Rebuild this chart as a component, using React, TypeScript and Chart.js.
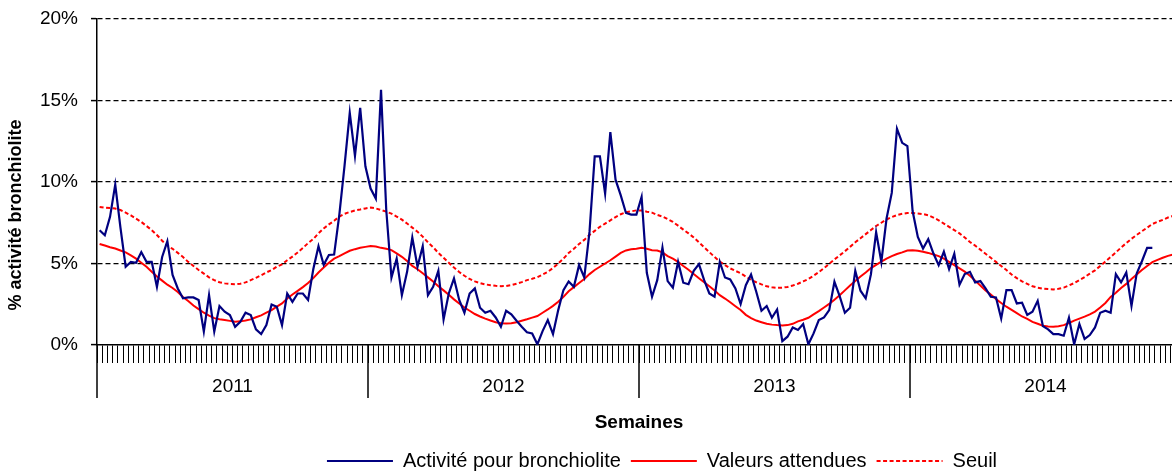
import React, { useEffect, useRef } from 'react';
import { Chart, registerables } from 'chart.js';

Chart.register(...registerables);

// ---------- data ----------
const YEARS = ['2011', '2012', '2013', '2014'];
const WEEKS_PER_YEAR = 52;
const WEEK_LABELS: string[] = YEARS.flatMap((y) =>
  Array.from({ length: WEEKS_PER_YEAR }, (_, k) => `${y}-S${String(k + 1).padStart(2, '0')}`)
);

const Y_TICKS = [0, 5, 10, 15, 20];
const Y_TICK_LABELS = ['0%', '5%', '10%', '15%', '20%'];

const SERIES_NAMES = ['Activité pour bronchiolite', 'Valeurs attendues', 'Seuil'];
const X_TITLE = 'Semaines';
const Y_TITLE = '% activité bronchiolite';

// % activity, weekly (2011-S01 ... 2014-S47)
const activite = [
  7.04, 6.73, 7.86, 9.84, 7.2, 4.8, 5.1, 5.04, 5.7, 5.1,
  5.1, 3.57, 5.4, 6.37, 4.3, 3.47, 2.86, 2.92, 2.92, 2.76,
  0.82, 3.06, 0.82, 2.39, 2.04, 1.84, 1.12, 1.43, 1.98, 1.84,
  0.96, 0.67, 1.22, 2.49, 2.35, 1.22, 3.16, 2.65, 3.16, 3.16,
  2.76, 4.65, 6.06, 4.92, 5.52, 5.55, 8.0, 11.0, 14.24, 11.6,
  14.55, 10.96, 9.6, 8.98, 15.65, 8.3, 4.14, 5.3, 3.06, 4.49,
  6.59, 4.8, 6.06, 3.06, 3.57, 4.55, 1.57, 3.16, 4.08, 2.76,
  1.98, 3.16, 3.47, 2.29, 1.98, 2.1, 1.69, 1.12, 2.1, 1.88,
  1.49, 1.12, 0.78, 0.71, 0.04, 0.85, 1.53, 0.67, 2.14, 3.37,
  3.9, 3.57, 4.9, 4.14, 6.94, 11.57, 11.57, 9.29, 13.06, 10.14,
  9.18, 8.1, 8.0, 8.0, 9.08, 4.43, 2.96, 3.98, 5.98, 3.92,
  3.51, 5.1, 3.82, 3.73, 4.55, 4.96, 3.98, 3.16, 2.96, 5.1,
  4.14, 4.02, 3.47, 2.51, 3.67, 4.33, 3.27, 2.1, 2.39, 1.67,
  2.18, 0.24, 0.51, 1.08, 0.92, 1.29, 0.04, 0.71, 1.53, 1.69,
  2.14, 3.88, 3.0, 1.98, 2.29, 4.55, 3.33, 2.86, 4.33, 6.92,
  5.1, 7.76, 9.33, 13.27, 12.4, 12.2, 8.22, 6.63, 5.92, 6.49,
  5.61, 4.9, 5.73, 4.65, 5.6, 3.7, 4.35, 4.49, 3.84, 3.92,
  3.47, 2.96, 2.92, 1.63, 3.37, 3.37, 2.55, 2.59, 1.84, 2.04,
  2.71, 1.16, 0.96, 0.67, 0.67, 0.57, 1.67, 0.04, 1.29, 0.37,
  0.61, 1.08, 1.98, 2.1, 1.98, 4.35, 3.84, 4.45, 2.39, 4.39,
  5.14, 5.96, 5.96,
];

// expected values, weekly
const attendues = [
  6.2, 6.1, 6.0, 5.92, 5.8, 5.68, 5.5, 5.3, 5.05, 4.8,
  4.5, 4.2, 3.95, 3.7, 3.5, 3.25, 2.95, 2.7, 2.42, 2.2,
  1.98, 1.8, 1.65, 1.58, 1.53, 1.48, 1.43, 1.45, 1.5, 1.57,
  1.7, 1.82, 1.98, 2.14, 2.35, 2.55, 2.85, 3.1, 3.32, 3.55,
  3.8, 4.1, 4.45, 4.75, 5.05, 5.3, 5.45, 5.62, 5.78, 5.88,
  5.96, 6.02, 6.08, 6.04, 5.96, 5.9, 5.82, 5.62, 5.41, 5.15,
  4.85, 4.65, 4.4, 4.15, 3.9, 3.6, 3.35, 3.08, 2.8, 2.55,
  2.3, 2.1, 1.9, 1.75, 1.62, 1.5, 1.4, 1.33, 1.32, 1.33,
  1.4, 1.49, 1.58, 1.68, 1.78, 1.98, 2.18, 2.4, 2.65, 2.95,
  3.3, 3.55, 3.8, 4.05, 4.35, 4.6, 4.8, 5.0, 5.2, 5.42,
  5.65, 5.8, 5.87, 5.9, 5.96, 5.9, 5.82, 5.8, 5.68, 5.45,
  5.3, 5.1, 4.85, 4.62, 4.35, 4.1, 3.85, 3.6, 3.35, 3.06,
  2.85, 2.62, 2.38, 2.15, 1.85, 1.65, 1.5, 1.4, 1.3, 1.25,
  1.22, 1.2, 1.22, 1.3, 1.45, 1.55, 1.67, 1.88, 2.08, 2.3,
  2.52, 2.78, 3.05, 3.35, 3.65, 3.92, 4.2, 4.45, 4.72, 4.92,
  5.12, 5.3, 5.45, 5.58, 5.68, 5.8, 5.82, 5.78, 5.72, 5.65,
  5.55, 5.45, 5.3, 5.1, 4.9, 4.7, 4.5, 4.25, 3.95, 3.65,
  3.35, 3.1, 2.82, 2.58, 2.35, 2.15, 1.95, 1.75, 1.6, 1.42,
  1.3, 1.18, 1.14, 1.12, 1.15, 1.22, 1.35, 1.5, 1.62, 1.74,
  1.88, 2.05, 2.3, 2.58, 2.95, 3.2, 3.5, 3.75, 4.05, 4.32,
  4.6, 4.85, 5.08, 5.22, 5.35, 5.47, 5.55, 5.62,
];

// alert threshold, weekly
const seuil = [
  8.47, 8.43, 8.4, 8.37, 8.28, 8.12, 7.95, 7.75, 7.55, 7.3,
  7.05, 6.75, 6.4, 6.1, 5.9, 5.65, 5.4, 5.1, 4.85, 4.6,
  4.38, 4.15, 3.98, 3.85, 3.78, 3.74, 3.73, 3.76, 3.84, 3.98,
  4.12, 4.28, 4.45, 4.6, 4.8, 4.95, 5.2, 5.42, 5.68, 5.95,
  6.25, 6.5, 6.85, 7.15, 7.4, 7.62, 7.88, 8.05, 8.16, 8.25,
  8.31, 8.38, 8.43, 8.38, 8.28, 8.18, 8.06, 7.88, 7.69, 7.45,
  7.2, 6.95, 6.65, 6.3, 6.0, 5.65, 5.35, 5.05, 4.75, 4.48,
  4.25, 4.05, 3.9, 3.8, 3.72, 3.67, 3.63, 3.61, 3.62, 3.67,
  3.76, 3.86, 3.98, 4.06, 4.16, 4.32, 4.49, 4.72, 5.0, 5.3,
  5.65, 5.9, 6.2, 6.45, 6.75, 7.0, 7.25, 7.45, 7.65, 7.85,
  8.02, 8.14, 8.2, 8.26, 8.25, 8.18, 8.12, 7.98, 7.88, 7.72,
  7.55, 7.32, 7.08, 6.85, 6.6, 6.3, 6.0, 5.7, 5.4, 5.12,
  4.9, 4.7, 4.55, 4.4, 4.2, 4.0, 3.85, 3.72, 3.6, 3.54,
  3.51, 3.52, 3.56, 3.65, 3.76, 3.9, 4.05, 4.25, 4.47, 4.72,
  4.98, 5.25, 5.5, 5.75, 6.02, 6.3, 6.55, 6.8, 7.05, 7.3,
  7.5, 7.7, 7.85, 7.97, 8.05, 8.1, 8.1, 8.07, 8.03, 7.96,
  7.82, 7.65, 7.45, 7.25, 7.05, 6.85, 6.6, 6.32, 6.1, 5.85,
  5.6, 5.35, 5.1, 4.85, 4.6, 4.32, 4.1, 3.9, 3.75, 3.6,
  3.52, 3.46, 3.43, 3.41, 3.45, 3.52, 3.65, 3.8, 3.98, 4.16,
  4.38, 4.58, 4.85, 5.12, 5.4, 5.68, 5.98, 6.25, 6.52, 6.75,
  6.98, 7.2, 7.42, 7.56, 7.68, 7.82, 7.92, 8.0,
];

// ---------- styling / layout constants ----------
const FONT = '"Liberation Sans", Arial, sans-serif';
const NAVY = '#000080';
const RED = '#ff0000';
const LEGEND_CENTER_X = 662;
const LEGEND_SHIFT_Y = 10;

const decorPlugin = {
  id: 'decor',
  afterLayout(chart: any) {
    const lg = chart.legend;
    if (lg && lg.lineWidths && lg.lineWidths.length) {
      const pad = lg.options.labels.padding;
      const lw = lg.lineWidths[0];
      const cur = (lg.left + pad + lg.right - lw) / 2;
      const target = LEGEND_CENTER_X - (lw - pad) / 2;
      const d = target - cur;
      lg.left += d;
      lg.right += d;
      lg.top += LEGEND_SHIFT_Y;
      lg.bottom += LEGEND_SHIFT_Y;
    }
  },
  afterDraw(chart: any) {
    const { ctx, chartArea, scales } = chart;
    const xs = scales.x;
    const boundary = (j: number) => (xs.getPixelForValue(j - 1) + xs.getPixelForValue(j)) / 2;
    ctx.save();
    // year separators and labels
    ctx.strokeStyle = '#000';
    ctx.lineWidth = 1.5;
    ctx.fillStyle = '#000';
    ctx.font = `19px ${FONT}`;
    ctx.textAlign = 'center';
    ctx.textBaseline = 'middle';
    for (let k = 0; k <= YEARS.length; k++) {
      const px = boundary(k * WEEKS_PER_YEAR);
      ctx.beginPath();
      ctx.moveTo(px, chartArea.bottom);
      ctx.lineTo(px, chartArea.bottom + 53);
      ctx.stroke();
    }
    YEARS.forEach((y, k) => {
      const a = boundary(k * WEEKS_PER_YEAR);
      const b = boundary((k + 1) * WEEKS_PER_YEAR);
      ctx.fillText(y, (a + b) / 2, chartArea.bottom + 42);
    });
    // x title
    ctx.font = `bold 19px ${FONT}`;
    ctx.fillText(X_TITLE, (chartArea.left + chartArea.right) / 2, chartArea.bottom + 78);
    // y title
    ctx.translate(16, 215);
    ctx.rotate(-Math.PI / 2);
    ctx.font = `bold 18px ${FONT}`;
    ctx.fillText(Y_TITLE, 0, 0);
    ctx.restore();
  },
};

export default function App() {
  const ref = useRef<HTMLCanvasElement | null>(null);

  useEffect(() => {
    if (!ref.current) return;
    Chart.defaults.font.family = FONT;
    const baseGenerate = (Chart.defaults as any).plugins.legend.labels.generateLabels;
    const chart = new Chart(ref.current, {
      type: 'line',
      data: {
        labels: WEEK_LABELS,
        datasets: [
          {
            label: SERIES_NAMES[0],
            data: activite,
            borderColor: NAVY,
            backgroundColor: NAVY,
            borderWidth: 2.2,
            pointRadius: 0,
            tension: 0,
            fill: false,
          },
          {
            label: SERIES_NAMES[1],
            data: attendues,
            borderColor: RED,
            backgroundColor: RED,
            borderWidth: 2,
            pointRadius: 0,
            tension: 0,
            fill: false,
          },
          {
            label: SERIES_NAMES[2],
            data: seuil,
            borderColor: RED,
            backgroundColor: RED,
            borderWidth: 2,
            borderDash: [4, 2.5],
            pointRadius: 0,
            tension: 0,
            fill: false,
          },
        ],
      },
      options: {
        responsive: false,
        animation: false,
        events: [],
        layout: { padding: { top: 19, bottom: 3, left: 0, right: 0 } },
        scales: {
          x: {
            type: 'category',
            offset: true,
            afterFit: (s: any) => {
              s.height = 86;
            },
            ticks: { display: false },
            grid: {
              offset: true,
              drawOnChartArea: false,
              drawTicks: true,
              tickLength: 18,
              color: '#000',
              lineWidth: 1,
            },
            border: { display: true, color: '#000', width: 1.5 },
          },
          y: {
            min: 0,
            max: 20,
            afterFit: (s: any) => {
              s.width = 97;
              s.paddingTop = 4;
              s.paddingBottom = 4;
            },
            afterBuildTicks: (s: any) => {
              s.ticks = Y_TICKS.map((v) => ({ value: v }));
            },
            ticks: {
              color: '#000',
              font: { size: 19 },
              padding: 13,
              callback: (_v: any, i: number) => Y_TICK_LABELS[i],
            },
            grid: {
              color: (c: any) => (c.tick && c.tick.value === 0 ? 'rgba(0,0,0,0)' : '#000'),
              lineWidth: 1.2,
              tickColor: '#000',
              tickLength: 6,
              tickWidth: 1.5,
            },
            border: { display: true, color: '#000', width: 1.5, dash: [5, 3] },
          },
        },
        plugins: {
          legend: {
            position: 'bottom',
            labels: {
              usePointStyle: true,
              pointStyle: 'line',
              pointStyleWidth: 66,
              color: '#000',
              font: { size: 20 },
              padding: 10,
              generateLabels: (c: any) =>
                baseGenerate(c).map((item: any) => {
                  const ds = c.data.datasets[item.datasetIndex];
                  return {
                    ...item,
                    lineWidth: 2,
                    lineDash: ds.borderDash || [],
                    strokeStyle: ds.borderColor,
                    fillStyle: ds.borderColor,
                  };
                }),
            },
          },
          tooltip: { enabled: false },
          title: { display: false },
        },
      },
      plugins: [decorPlugin],
    } as any);
    return () => chart.destroy();
  }, []);

  return (
    <div
      style={{
        position: 'absolute',
        left: 0,
        top: 0,
        width: 1172,
        height: 474,
        overflow: 'hidden',
        background: '#fff',
      }}
    >
      <canvas ref={ref} width={1181} height={474} style={{ display: 'block' }} />
    </div>
  );
}
